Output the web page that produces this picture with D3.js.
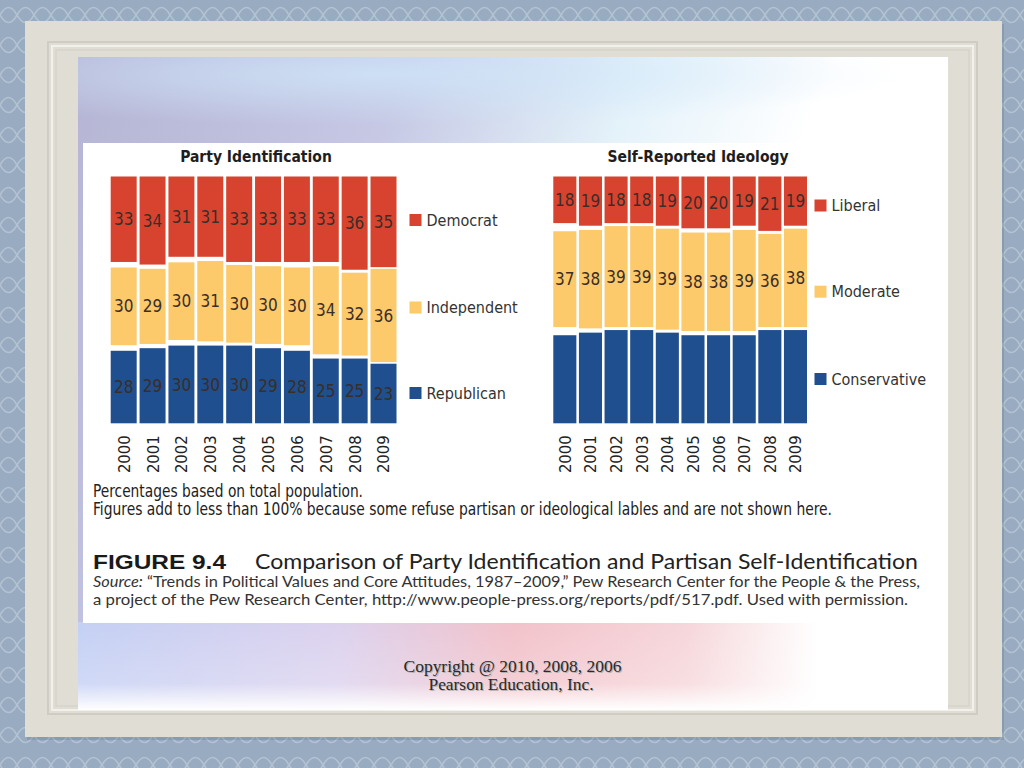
<!DOCTYPE html>
<html><head><meta charset="utf-8">
<script src="https://cdn.jsdelivr.net/npm/d3@7"></script>
<style>html,body{margin:0;padding:0;background:#97aabf;}svg{display:block;}</style>
</head><body>
<script>
// ---- data ----
const years = ["2000","2001","2002","2003","2004","2005","2006","2007","2008","2009"];
const democrat    = [33,34,31,31,33,33,33,33,36,35];
const independent = [30,29,30,31,30,30,30,34,32,36];
const republican  = [28,29,30,30,30,29,28,25,25,23];
const liberal      = [18,19,18,18,19,20,20,19,21,19];
const moderate     = [37,38,39,39,39,38,38,39,36,38];
const conservative = [34,35,36,36,35,34,34,34,36,36];
const partyNames = ["Democrat","Independent","Republican"];
const ideologyNames = ["Liberal","Moderate","Conservative"];
const panelTitles = ["Party Identification","Self-Reported Ideology"];
const notes = ["Percentages based on total population.",
  "Figures add to less than 100% because some refuse partisan or ideological lables and are not shown here."];

const W = 1024, H = 768;
const colors = ["#d8432f", "#fcc96b", "#1f4f8e"];
const NARROW = "'Liberation Sans Narrow','DejaVu Sans Condensed','Liberation Sans',sans-serif";

const svg = d3.select("body").append("svg").attr("width", W).attr("height", H);
const defs = svg.append("defs");

// background pattern
const pat = defs.append("pattern").attr("id","bgpat").attr("width",34).attr("height",30).attr("patternUnits","userSpaceOnUse");
pat.append("rect").attr("width",34).attr("height",30).attr("fill","#98abc0");
pat.append("path").attr("d","M0,15 Q8.5,0 17,15 Q25.5,30 34,15 M0,15 Q8.5,30 17,15 Q25.5,0 34,15")
  .attr("fill","none").attr("stroke","#b3c2d3").attr("stroke-width",1.6);
svg.append("rect").attr("width",W).attr("height",H).attr("fill","url(#bgpat)");

// card
svg.append("rect").attr("x",27).attr("y",24).attr("width",977).attr("height",716).attr("fill","#6f7f92").attr("opacity",0.35);
svg.append("rect").attr("x",25).attr("y",21).attr("width",977).attr("height",716).attr("fill","#e0ddd5");
svg.append("rect").attr("x",48).attr("y",42).attr("width",929).attr("height",672).attr("fill","none").attr("stroke","#cfccc3").attr("stroke-width",2);
svg.append("rect").attr("x",52).attr("y",46).attr("width",921).attr("height",664).attr("fill","none").attr("stroke","#f2f0ea").attr("stroke-width",2);
svg.append("rect").attr("x",56).attr("y",50).attr("width",913).attr("height",656).attr("fill","none").attr("stroke","#d6d3ca").attr("stroke-width",1.5);

// photo area
const gTop = defs.append("linearGradient").attr("id","gtop").attr("x1","0").attr("y1","0").attr("x2","1").attr("y2","0.3");
[["0","#b5b4d4"],["0.35","#c6c8e4"],["0.6","#e4f2fa"],["0.8","#ffffff"],["1","#ffffff"]].forEach(s=>gTop.append("stop").attr("offset",s[0]).attr("stop-color",s[1]));
svg.append("rect").attr("x",78).attr("y",57).attr("width",870).attr("height",653).attr("fill","url(#gtop)");
const gBand = defs.append("radialGradient").attr("id","gband").attr("cx","0.35").attr("cy","0.2").attr("r","0.6");
[["0","#cfe6fa","0.8"],["1","#cfe6fa","0"]].forEach(s=>gBand.append("stop").attr("offset",s[0]).attr("stop-color",s[1]).attr("stop-opacity",s[2]));
svg.append("rect").attr("x",78).attr("y",57).attr("width",870).attr("height",86).attr("fill","url(#gband)");
const gBot = defs.append("linearGradient").attr("id","gbot").attr("x1","0").attr("y1","0").attr("x2","1").attr("y2","0");
[["0","#c4d0f4"],["0.3","#dcd2ee"],["0.5","#f2c2ca"],["0.7","#f6d6da"],["0.85","#ffffff"],["1","#ffffff"]].forEach(s=>gBot.append("stop").attr("offset",s[0]).attr("stop-color",s[1]));
svg.append("rect").attr("x",78).attr("y",622).attr("width",870).attr("height",88).attr("fill","url(#gbot)");
const gFade = defs.append("linearGradient").attr("id","gfade").attr("x1","0").attr("y1","0").attr("x2","0").attr("y2","1");
[["0","#ffffff","0"],["0.7","#ffffff","0.2"],["1","#ffffff","1"]].forEach(s=>gFade.append("stop").attr("offset",s[0]).attr("stop-color",s[1]).attr("stop-opacity",s[2]));
svg.append("rect").attr("x",78).attr("y",622).attr("width",870).attr("height",88).attr("fill","url(#gfade)");

// figure white panel
svg.append("rect").attr("x",83).attr("y",143).attr("width",865).attr("height",480).attr("fill","#ffffff");

// scales
const y0 = 176.5, y1 = 423.3;
const k = d3.scaleLinear().domain([0,100]).range([0,259]);

function panel(opt){
  const g = svg.append("g");
  const x = d3.scaleBand().domain(years).range(opt.xr).paddingInner(0.1);
  const series = opt.series;
  years.forEach((yr,i)=>{
    const vals = series.map(s=>s[i]);
    const tot = d3.sum(vals);
    const gap = ((y1-y0) - k(tot))/2;
    let top = y0;
    vals.forEach((v,j)=>{
      const h = k(v);
      g.append("rect").attr("x",x(yr)).attr("y",top).attr("width",x.bandwidth()).attr("height",h).attr("fill",colors[j]);
      if (opt.labels[j]) {
        g.append("text").attr("x",x(yr)+x.bandwidth()/2).attr("y",top+h/2).attr("dy","0.36em")
          .attr("text-anchor","middle").attr("font-family",NARROW).attr("font-size",17)
          .attr("fill","#3a2e28").text(v);
      }
      top += h + gap;
    });
  });
  // year axis
  const ax = g.append("g").attr("transform",`translate(0,${y1})`)
    .call(d3.axisBottom(x).tickSize(0).tickPadding(0));
  ax.select(".domain").remove();
  ax.selectAll("text").attr("transform","translate(0,12) rotate(-90)").attr("text-anchor","end")
    .attr("dx",0).attr("dy","0.36em").attr("x",0).attr("y",0)
    .attr("font-family",NARROW).attr("font-size",16.5).attr("fill","#222");
  // title
  g.append("text").attr("x",opt.tx).attr("y",162).attr("text-anchor","middle")
    .attr("font-family",NARROW).attr("font-weight","bold").attr("font-size",15.5).attr("fill","#1e1e1e").text(opt.title);
  // legend
  opt.names.forEach((n,j)=>{
    g.append("rect").attr("x",opt.lx).attr("y",opt.ly[j]-6).attr("width",12).attr("height",12).attr("fill",colors[j]);
    g.append("text").attr("x",opt.lx+17).attr("y",opt.ly[j]).attr("dy","0.36em")
      .attr("font-family",NARROW).attr("font-size",16).attr("fill","#333").text(n);
  });
}

panel({xr:[110.7,396.5], series:[democrat,independent,republican], labels:[true,true,true],
  names:partyNames, title:panelTitles[0], tx:256, lx:409.5, ly:[220,307.5,393]});
panel({xr:[553.3,807], series:[liberal,moderate,conservative], labels:[true,true,false],
  names:ideologyNames, title:panelTitles[1], tx:698, lx:814.5, ly:[205.5,291.7,379]});

// notes
svg.append("text").attr("x",93).attr("y",497).attr("font-family",NARROW).attr("font-size",17).attr("fill","#222")
  .attr("textLength",270).attr("lengthAdjust","spacingAndGlyphs").text(notes[0]);
svg.append("text").attr("x",93).attr("y",515).attr("font-family",NARROW).attr("font-size",17).attr("fill","#222")
  .attr("textLength",739).attr("lengthAdjust","spacingAndGlyphs").text(notes[1]);

// caption
svg.append("text").attr("x",93).attr("y",569).attr("font-family","'Liberation Sans',sans-serif").attr("font-weight","bold")
  .attr("font-size",21).attr("fill","#1a1a1a").attr("textLength",133).attr("lengthAdjust","spacingAndGlyphs").text("FIGURE 9.4");
svg.append("text").attr("x",255).attr("y",569).attr("font-family","Lato,'Open Sans',sans-serif")
  .attr("font-size",22).attr("fill","#222").attr("textLength",663).attr("lengthAdjust","spacingAndGlyphs")
  .text("Comparison of Party Identification and Partisan Self-Identification");
const s1 = svg.append("text").attr("x",93).attr("y",587).attr("font-family","Lato,'Open Sans',sans-serif")
  .attr("font-size",15).attr("fill","#333").attr("textLength",827).attr("lengthAdjust","spacingAndGlyphs");
s1.append("tspan").attr("font-style","italic").text("Source:");
s1.append("tspan").text(" “Trends in Political Values and Core Attitudes, 1987–2009,” Pew Research Center for the People & the Press,");
svg.append("text").attr("x",93).attr("y",605).attr("font-family","Lato,'Open Sans',sans-serif")
  .attr("font-size",15).attr("fill","#333").attr("textLength",815).attr("lengthAdjust","spacingAndGlyphs")
  .text("a project of the Pew Research Center, http://www.people-press.org/reports/pdf/517.pdf. Used with permission.");

// copyright
[["Copyright @ 2010, 2008, 2006",403.5,671.5,218],["Pearson Education, Inc.",428.5,690,165]].forEach(t=>{
  svg.append("text").attr("x",t[1]+1).attr("y",t[2]+1).attr("font-family","'Liberation Serif',serif").attr("font-size",16)
    .attr("fill","#b0b0b0").attr("textLength",t[3]).attr("lengthAdjust","spacingAndGlyphs").text(t[0]);
  svg.append("text").attr("x",t[1]).attr("y",t[2]).attr("font-family","'Liberation Serif',serif").attr("font-size",16)
    .attr("fill","#2a2a2a").attr("textLength",t[3]).attr("lengthAdjust","spacingAndGlyphs").text(t[0]);
});
</script>
</body></html>
